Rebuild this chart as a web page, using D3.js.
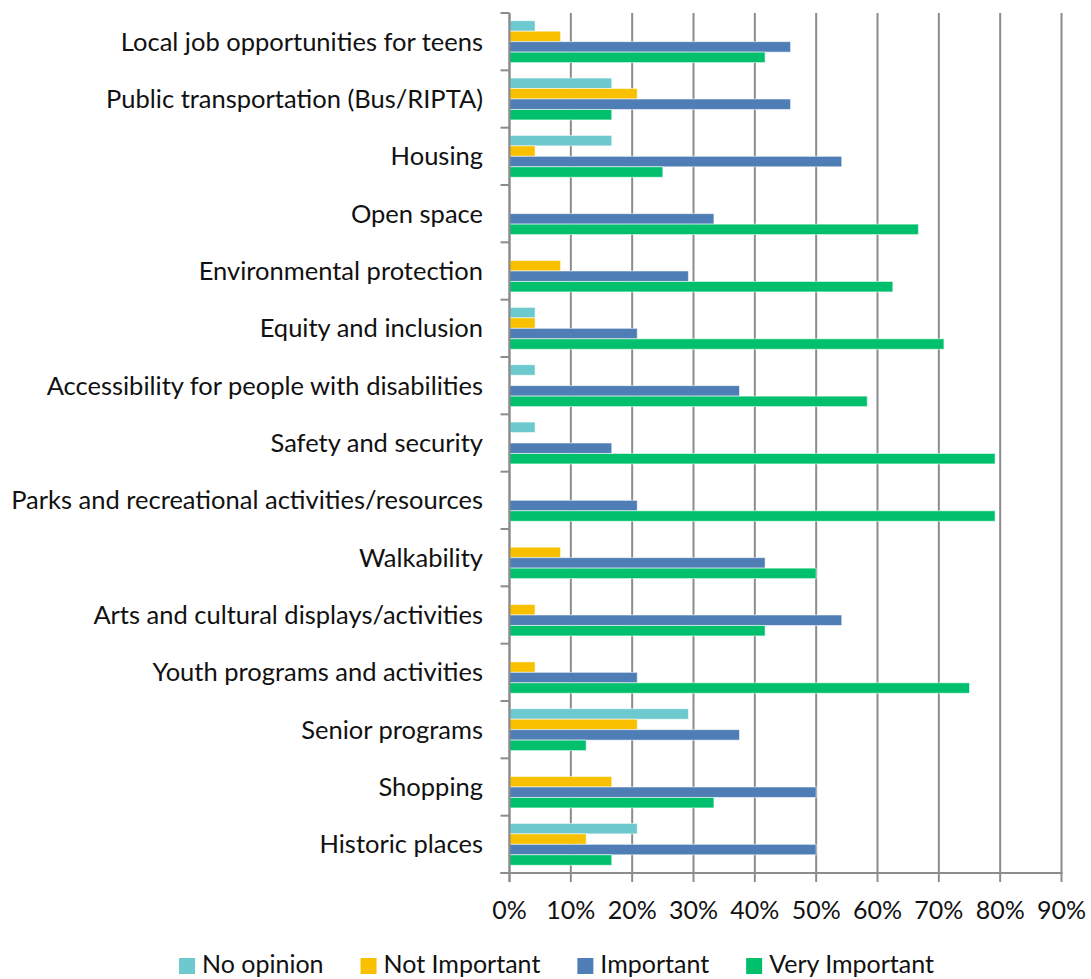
<!DOCTYPE html>
<html>
<head>
<meta charset="utf-8">
<script src="https://cdn.jsdelivr.net/npm/d3@7"></script>
<style>
  body { margin: 0; background: #fff; }
  text { font-family: "Lato", "Open Sans", sans-serif; fill: #111; }
</style>
</head>
<body>
<svg id="chart" width="1091" height="979"></svg>
<script>
// data (percent of respondents)
var categories = [
  "Local job opportunities for teens",
  "Public transportation (Bus/RIPTA)",
  "Housing",
  "Open space",
  "Environmental protection",
  "Equity and inclusion",
  "Accessibility for people with disabilities",
  "Safety and security",
  "Parks and recreational activities/resources",
  "Walkability",
  "Arts and cultural displays/activities",
  "Youth programs and activities",
  "Senior programs",
  "Shopping",
  "Historic places"
];
var seriesNames = ["No opinion", "Not Important", "Important", "Very Important"];
var noOpinion     = [4.17, 16.67, 16.67, 0, 0, 4.17, 4.17, 4.17, 0, 0, 0, 0, 29.17, 0, 20.83];
var notImportant  = [8.33, 20.83, 4.17, 0, 8.33, 4.17, 0, 0, 0, 8.33, 4.17, 4.17, 20.83, 16.67, 12.5];
var important     = [45.83, 45.83, 54.17, 33.33, 29.17, 20.83, 37.5, 16.67, 20.83, 41.67, 54.17, 20.83, 37.5, 50, 50];
var veryImportant = [41.67, 16.67, 25, 66.67, 62.5, 70.83, 58.33, 79.17, 79.17, 50, 41.67, 75, 12.5, 33.33, 16.67];
var xTicks = [0, 10, 20, 30, 40, 50, 60, 70, 80, 90];

var seriesValues = [noOpinion, notImportant, important, veryImportant];
var colors = ["#6cc9cd", "#f9c000", "#4f7db6", "#00c06e"];

function draw_chart(){
  var svg = d3.select("#chart");
  var plotLeft = 509.5, plotRight = 1061.5, plotTop = 13, plotBottom = 873;
  var gridColor = "#8c8c8c";

  var x = d3.scaleLinear().domain([0, 90]).range([plotLeft, plotRight]);
  var y0 = d3.scaleBand().domain(categories).range([plotTop, plotBottom]);
  var pad = y0.bandwidth() * 0.135;
  var y1 = d3.scaleBand().domain(seriesNames).range([pad, y0.bandwidth() - pad]);

  // vertical gridlines (they run down past the axis as tick marks)
  svg.append("g")
    .selectAll("line")
    .data(xTicks)
    .enter().append("line")
    .attr("x1", function(d){ return x(d); })
    .attr("x2", function(d){ return x(d); })
    .attr("y1", plotTop)
    .attr("y2", plotBottom + 9)
    .attr("stroke", gridColor)
    .attr("stroke-width", 2);

  // x tick labels
  svg.append("g")
    .selectAll("text")
    .data(xTicks)
    .enter().append("text")
    .attr("x", function(d){ return x(d); })
    .attr("y", 910)
    .attr("dy", "0.35em")
    .attr("text-anchor", "middle")
    .style("font-size", "25px")
    .text(function(d){ return d + "%"; });

  // left axis ticks between categories
  var boundaries = categories.map(function(c){ return y0(c); }).concat([plotBottom]);
  svg.append("g")
    .selectAll("line")
    .data(boundaries)
    .enter().append("line")
    .attr("x1", plotLeft - 9)
    .attr("x2", plotLeft)
    .attr("y1", function(d){ return d; })
    .attr("y2", function(d){ return d; })
    .attr("stroke", gridColor)
    .attr("stroke-width", 2);

  // bars
  var rows = categories.map(function(c, i){
    return { cat: c, vals: seriesNames.map(function(s, j){ return { name: s, v: seriesValues[j][i], color: colors[j] }; }) };
  });

  var groups = svg.append("g")
    .selectAll("g")
    .data(rows)
    .enter().append("g")
    .attr("transform", function(d){ return "translate(0," + y0(d.cat) + ")"; });

  groups.selectAll("rect")
    .data(function(d){ return d.vals.filter(function(v){ return v.v > 0; }); })
    .enter().append("rect")
    .attr("x", x(0))
    .attr("y", function(d){ return y1(d.name); })
    .attr("width", function(d){ return x(d.v) - x(0); })
    .attr("height", y1.bandwidth())
    .attr("fill", function(d){ return d.color; })
    .attr("stroke", "#ffffff")
    .attr("stroke-opacity", 0.55)
    .attr("stroke-width", 1);

  // axis lines on top of bars
  svg.append("line")
    .attr("x1", plotLeft).attr("x2", plotLeft)
    .attr("y1", plotTop).attr("y2", plotBottom + 9)
    .attr("stroke", gridColor).attr("stroke-width", 2);
  svg.append("line")
    .attr("x1", plotLeft - 9).attr("x2", plotRight + 1)
    .attr("y1", plotBottom).attr("y2", plotBottom)
    .attr("stroke", gridColor).attr("stroke-width", 2);

  // category labels
  svg.append("g")
    .selectAll("text")
    .data(categories)
    .enter().append("text")
    .attr("x", 483)
    .attr("y", function(d){ return y0(d) + y0.bandwidth() / 2; })
    .attr("dy", "0.35em")
    .attr("text-anchor", "end")
    .style("font-size", "25.5px")
    .text(function(d){ return d; });

  // legend
  var legend = svg.append("g").attr("transform", "translate(179,964)");
  var lx = 0;
  seriesNames.forEach(function(name, i){
    var g = legend.append("g").attr("transform", "translate(" + lx + ",0)");
    g.append("rect")
      .attr("x", 0).attr("y", -6)
      .attr("width", 16).attr("height", 16)
      .attr("fill", colors[i]);
    var t = g.append("text")
      .attr("x", 23)
      .attr("dy", "0.35em")
      .style("font-size", "25px")
      .text(name);
    lx += 23 + t.node().getComputedTextLength() + 37;
  });
}

draw_chart();
</script>
</body>
</html>
